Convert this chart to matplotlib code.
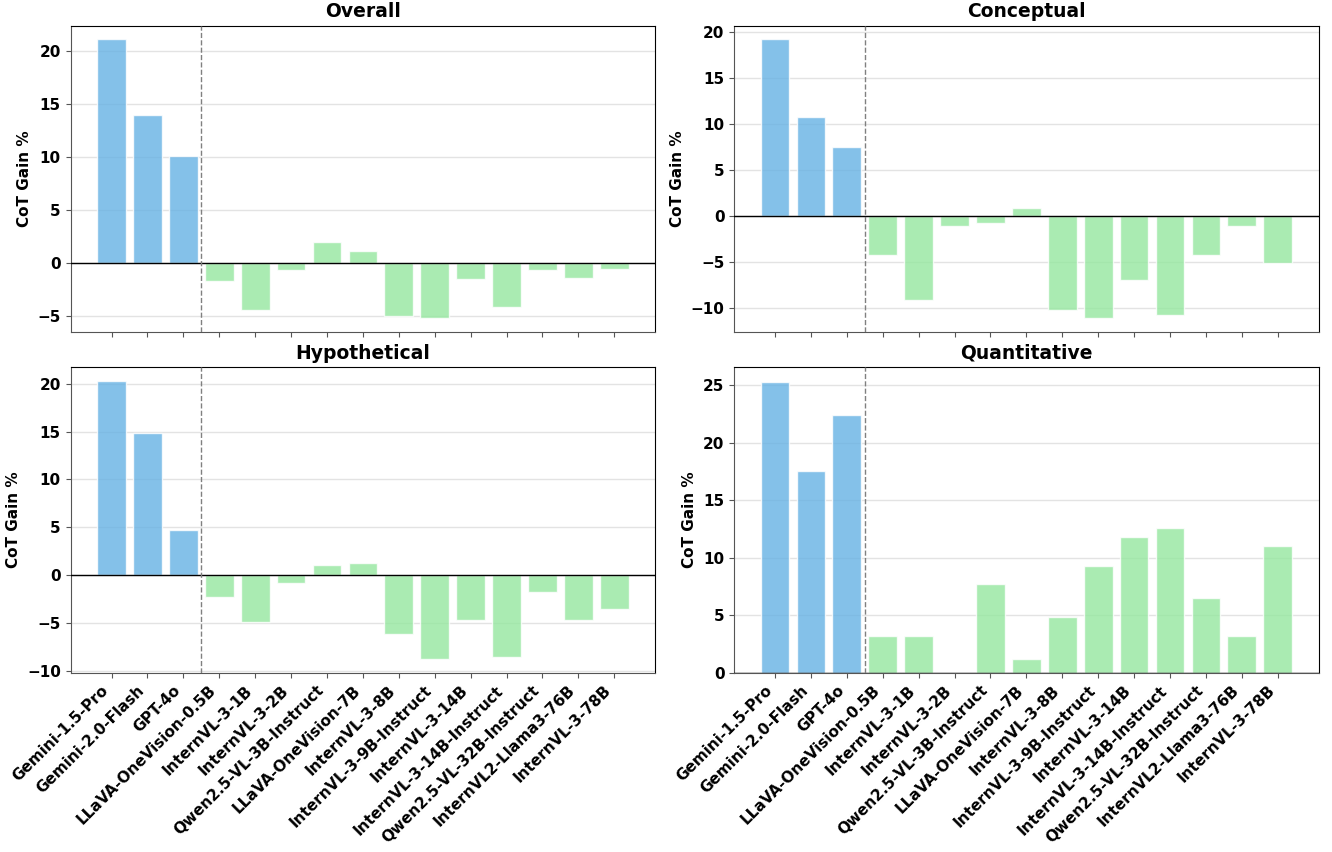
import matplotlib
matplotlib.use("Agg")
import matplotlib.pyplot as plt
import numpy as np

models = [
    "Gemini-1.5-Pro", "Gemini-2.0-Flash", "GPT-4o",
    "LLaVA-OneVision-0.5B", "InternVL-3-1B", "InternVL-3-2B",
    "Qwen2.5-VL-3B-Instruct", "LLaVA-OneVision-7B", "InternVL-3-8B",
    "InternVL-3-9B-Instruct", "InternVL-3-14B", "InternVL-3-14B-Instruct",
    "Qwen2.5-VL-32B-Instruct", "InternVL2-Llama3-76B", "InternVL-3-78B",
]
n_proprietary = 3

overall = [21.1, 14.0, 10.1, -1.7, -4.5, -0.7, 2.0, 1.1, -5.0, -5.2, -1.5, -4.2, -0.7, -1.4, -0.6]
conceptual = [19.2, 10.8, 7.5, -4.3, -9.2, -1.1, -0.8, 0.8, -10.3, -11.1, -7.0, -10.8, -4.3, -1.1, -5.1]
hypothetical = [20.3, 14.8, 4.7, -2.3, -4.9, -0.8, 1.0, 1.3, -6.2, -8.8, -4.7, -8.6, -1.8, -4.7, -3.6]
quantitative = [25.3, 17.5, 22.4, 3.2, 3.2, 0.0, 7.7, 1.2, 4.9, 9.3, 11.8, 12.6, 6.5, 3.2, 11.0]

panels = [
    ("Overall", overall),
    ("Conceptual", conceptual),
    ("Hypothetical", hypothetical),
    ("Quantitative", quantitative),
]

blue = "#66b2e4"
green = "#95e79f"
colors = [blue] * n_proprietary + [green] * (len(models) - n_proprietary)

fig, axes = plt.subplots(2, 2, figsize=(13.32, 8.52), dpi=100, sharex="col")
fig.subplots_adjust(left=0.053, right=0.99, top=0.970, bottom=0.210, hspace=0.115, wspace=0.135)
x = np.arange(len(models))

for ax, (title, vals) in zip(axes.flat, panels):
    ax.bar(x, vals, color=colors, alpha=0.8, edgecolor="white", linewidth=1, zorder=2)
    ax.axhline(0, color="black", linewidth=1, zorder=3)
    ax.axvline(n_proprietary - 0.5, color="gray", linestyle="--", linewidth=1, zorder=3)
    ax.grid(axis="y", color="#e3e3e3", linewidth=1, zorder=0)
    ax.set_axisbelow(True)
    ax.set_title(title, fontsize=13.5, fontweight="bold")
    ax.set_ylabel("CoT Gain %", fontsize=11, fontweight="bold")
    for s in ("left", "bottom"):
        ax.spines[s].set_color("#555555")
    ax.tick_params(axis="both", colors="#555555", labelcolor="black", labelsize=11)
    for lbl in ax.get_yticklabels():
        lbl.set_fontweight("bold")

for ax in axes[1]:
    ax.set_xticks(x)
    ax.set_xticklabels(models, rotation=45, ha="right", fontsize=11, fontweight="bold")

plt.savefig("out.png")
